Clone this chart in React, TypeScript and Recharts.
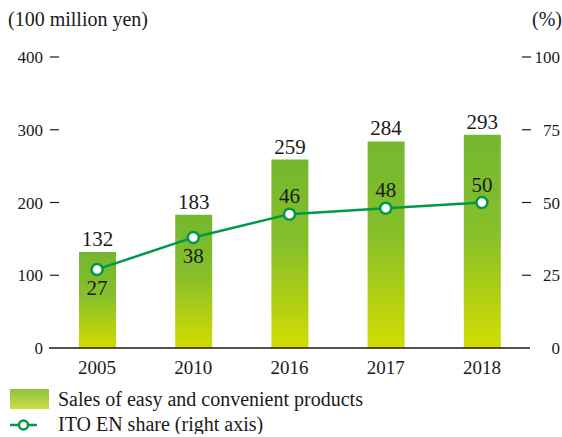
import { ComposedChart, Bar, Line, XAxis, YAxis, LabelList, Legend } from "recharts";

const years = ['2005', '2010', '2016', '2017', '2018']
const sales = [132, 183, 259, 284, 293]
const share = [27, 38, 46, 48, 50]
const leftTicks = [0, 100, 200, 300, 400]
const rightTicks = [0, 25, 50, 75, 100]

const data = years.map((year, i) => ({ year, sales: sales[i], share: share[i] }))

const FONT = '"Liberation Serif", "Times New Roman", serif'
const LINE_GREEN = '#00984a'
const TEXT = '#1a1a1a'

const LeftTick = (props: any) => {
    const { y, payload } = props
    return (
        <g>
            <text x={43} y={y} dy={6} textAnchor="end" fontSize={17} fontFamily={FONT} fill={TEXT}>{payload.value}</text>
            {payload.value !== 0 && <line x1={50} x2={59} y1={y} y2={y} stroke={TEXT} strokeWidth={1.2} />}
        </g>
    )
}

const RightTick = (props: any) => {
    const { y, payload } = props
    return (
        <g>
            <text x={560} y={y} dy={6} textAnchor="end" fontSize={17} fontFamily={FONT} fill={TEXT}>{payload.value}</text>
            {payload.value !== 0 && <line x1={522} x2={531} y1={y} y2={y} stroke={TEXT} strokeWidth={1.2} />}
        </g>
    )
}

const ShareLabel = (props: any) => {
    const { x, y, value, index } = props
    // first two labels sit under the dot
    const below = index < 2
    return (
        <text x={x} y={below ? y + 26 : y - 11} textAnchor="middle" fontSize={21} fontFamily={FONT} fill={TEXT}>{value}</text>
    )
}

const LegendBox = () => (
    <svg width={400} height={50}>
        <defs>
            <linearGradient id="legGrad" x1="0" y1="0" x2="0" y2="1">
                <stop offset="0%" stopColor="#8fc43a" />
                <stop offset="100%" stopColor="#cbdd4a" />
            </linearGradient>
        </defs>
        <rect x={10} y={5} width={39} height={20} fill="url(#legGrad)" />
        <text x={58} y={22} fontSize={20} fontFamily={FONT} fill={TEXT}>Sales of easy and convenient products</text>
        <line x1={10} x2={37} y1={41} y2={41} stroke={LINE_GREEN} strokeWidth={2.5} />
        <circle cx={23.5} cy={41} r={4.5} fill="#fff" stroke={LINE_GREEN} strokeWidth={2.5} />
        <text x={58} y={47} fontSize={20} fontFamily={FONT} fill={TEXT}>ITO EN share (right axis)</text>
    </svg>
)

export default function App() {
    return (
        <div style={{ position: 'absolute', left: 0, top: 0, background: '#fff' }}>
            <ComposedChart width={562} height={437} data={data} margin={{ top: 57, right: 0, bottom: 59, left: 0 }}>
                <defs>
                    <linearGradient id="barGrad" x1="0" y1="0" x2="0" y2="1">
                        <stop offset="0%" stopColor="#74b72f" />
                        <stop offset="45%" stopColor="#86bf2b" />
                        <stop offset="100%" stopColor="#d3dc00" />
                    </linearGradient>
                </defs>
                <text x={8} y={26} fontSize={20} fontFamily={FONT} fill={TEXT}>(100 million yen)</text>
                <text x={562} y={26} textAnchor="end" fontSize={20} fontFamily={FONT} fill={TEXT}>(%)</text>
                <XAxis dataKey="year" height={30} tickLine={false} axisLine={{ stroke: TEXT, strokeWidth: 1.5 }}
                    tick={{ fontSize: 19, fontFamily: FONT, fill: TEXT }} tickMargin={7} />
                <YAxis yAxisId="left" width={49} domain={[0, 400]} ticks={leftTicks} axisLine={false} tickLine={false} tick={<LeftTick />} />
                <YAxis yAxisId="right" orientation="right" width={32} domain={[0, 100]} ticks={rightTicks} axisLine={false} tickLine={false} tick={<RightTick />} />
                <Bar yAxisId="left" dataKey="sales" fill="url(#barGrad)" barSize={37} isAnimationActive={false}>
                    <LabelList dataKey="sales" position="top" offset={6} fontSize={21} fontFamily={FONT} fill={TEXT} />
                </Bar>
                <Line yAxisId="right" dataKey="share" stroke={LINE_GREEN} strokeWidth={2.5}
                    dot={{ r: 5.5, fill: '#fff', stroke: LINE_GREEN, strokeWidth: 2.5 }} isAnimationActive={false}>
                    <LabelList dataKey="share" content={<ShareLabel />} />
                </Line>
                <Legend layout="horizontal" verticalAlign="middle" align="center"
                    wrapperStyle={{ top: 384, left: 0, width: 400 }} content={<LegendBox />} />
            </ComposedChart>
        </div>
    )
}
